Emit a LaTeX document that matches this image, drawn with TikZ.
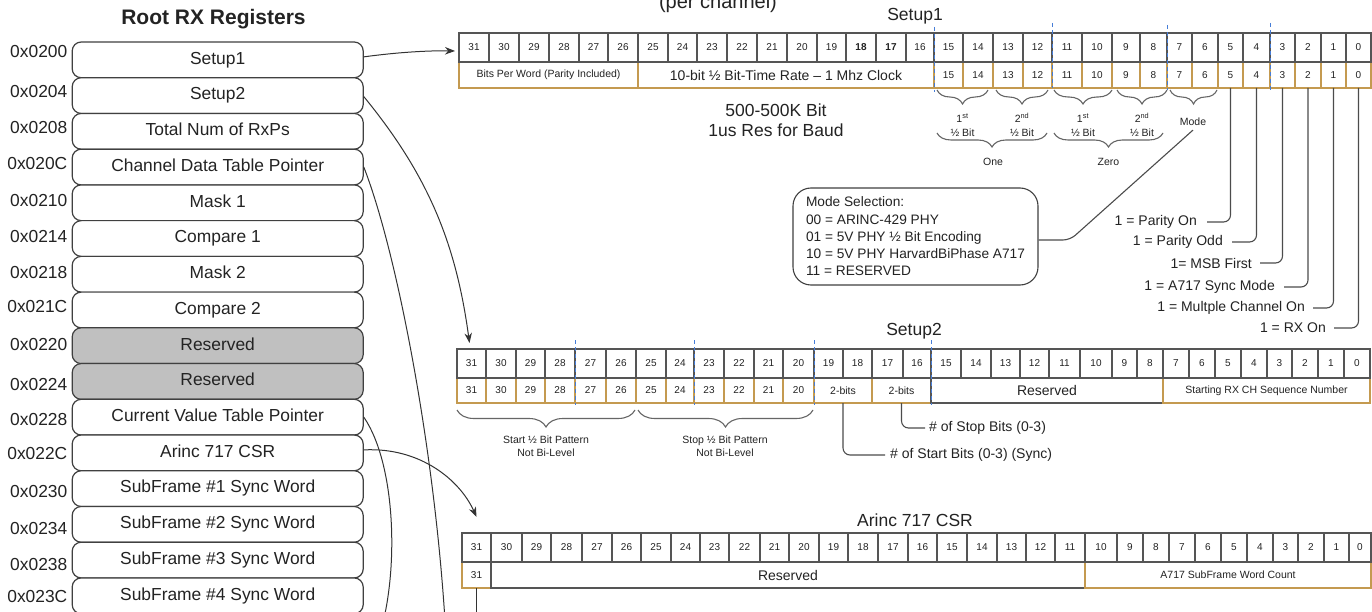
\documentclass[tikz,border=0pt]{standalone}
\usepackage{fontspec}
\setmainfont{Liberation Sans}
\usetikzlibrary{arrows.meta,decorations.pathreplacing,calc}
\definecolor{edgecol}{RGB}{85,85,85}
\definecolor{tancol}{RGB}{196,154,80}
\definecolor{dashcol}{RGB}{70,125,215}
\definecolor{inkcol}{RGB}{35,35,35}
\definecolor{resvcol}{RGB}{192,192,192}
\newcommand\fsz[2]{\fontsize{#1}{#2}\selectfont}
\begin{document}
\begin{tikzpicture}[x=1pt,y=-1pt,
  every node/.style={text=inkcol},
  topcell/.style={draw=edgecol, line width=1.1pt, inner sep=0pt, outer sep=0pt, font={\fsz{10}{12}}, minimum height=29pt},
  botcell/.style={draw=tancol, line width=1.1pt, inner sep=0pt, outer sep=0pt, font={\fsz{10}{12}}},
  regbox/.style={draw=black!75, line width=1.2pt, rounded corners=9pt, minimum width=291pt, minimum height=35.73pt, inner sep=0pt, text height=12.4pt, text depth=3.8pt, font={\fsz{17.4}{20}}},
  addr/.style={anchor=east, inner sep=0pt, font={\fsz{17.4}{20}}},
  conn/.style={draw=black!80, line width=1pt},
  arr/.style={conn, -{Stealth[length=10pt,width=7.5pt]}},
  leader/.style={draw=black!70, line width=1.1pt, rounded corners=7pt},
  bluedash/.style={draw=dashcol, line width=1pt, dash pattern=on 4pt off 3pt},
  bracelow/.style={draw=black!60, line width=1.1pt, decorate, decoration={brace, mirror, amplitude=#1}},
  small/.style={font={\fsz{10.5}{13}}, inner sep=0pt},
  mid/.style={font={\fsz{14}{17}}, inner sep=0pt},
  big/.style={font={\fsz{17.5}{19.5}}, inner sep=0pt}
]
\useasboundingbox (0,0) rectangle (1372,612);
\clip (0,0) rectangle (1372,612);
\fill[white] (0,0) rectangle (1372,612);

% ---------- left: root registers ----------
\node[font={\bfseries\fsz{21}{24}}, anchor=base, inner sep=0pt] (title) at (213.5,25) {Root RX Registers};
\foreach \lbl/\fc [count=\i from 0] in {Setup1/white, Setup2/white, Total Num of RxPs/white, Channel Data Table Pointer/white, Mask 1/white, Compare 1/white, Mask 2/white, Compare 2/white, Reserved/resvcol, Reserved/resvcol, Current Value Table Pointer/white, Arinc 717 CSR/white, SubFrame \#1 Sync Word/white, SubFrame \#2 Sync Word/white, SubFrame \#3 Sync Word/white, SubFrame \#4 Sync Word/white}
  \node[regbox, fill=\fc] (r\i) at (217.7,{42+35.73*(\i+0.5)}) {\lbl};
\foreach \a/\yy [count=\i from 0] in {0x0200/52,0x0204/92,0x0208/128,0x020C/164,0x0210/201,0x0214/237,0x0218/273,0x021C/307,0x0220/345,0x0224/385,0x0228/420,0x022C/454,0x0230/492,0x0234/529,0x0238/565,0x023C/597}
  \node[addr] (ad\i) at (67.5,\yy) {\a};

% ---------- Setup1 ----------
\node[font={\fsz{20}{24}}, anchor=base, inner sep=0pt] (lPer) at (718,9) {(per channel)};
\node[big] (lSetup1) at (915,16) {Setup1};
\node[botcell, minimum width=179pt, minimum height=26pt, font={\fsz{10.5}{12}}] (s1bpw) at (548.5,75) {Bits Per Word (Parity Included)};
\node[botcell, minimum width=296pt, minimum height=26pt, font={\fsz{14}{16}}] (s1rate) at (786,75) {10-bit ½ Bit-Time Rate – 1 Mhz Clock};
\foreach \xa/\xb [count=\i from 0] in {934/963,963/993,993/1023,1023/1052,1052/1082,1082/1112,1112/1140,1140/1167,1167/1192,1192/1218,1218/1243,1243/1270,1270/1295,1295/1321,1321/1346,1346/1371} {
  \pgfmathtruncatemacro\bit{15-\i}
  \node[botcell, minimum width={(\xb-\xa)*1pt}, minimum height=26pt] (s1b\bit) at ({(\xa+\xb)/2},75) {\bit};
}
\foreach \xa/\xb [count=\i from 0] in {459/489,489/519,519/549,549/579,579/608,608/638,638/668,668/697,697/727,727/757,757/787,787/817,817/846,846/876,876/906,906/934,934/963,963/993,993/1023,1023/1052,1052/1082,1082/1112,1112/1140,1140/1167,1167/1192,1192/1218,1218/1243,1243/1270,1270/1295,1295/1321,1321/1346,1346/1371} {
  \pgfmathtruncatemacro\bit{31-\i}
  \node[topcell, minimum width={(\xb-\xa)*1pt}] (s1t\bit) at ({(\xa+\xb)/2},47.5) {\ifnum\bit=18 \bfseries\fi\ifnum\bit=17 \bfseries\fi\bit};
}
\node[big, align=center] (lBaud) at (776,120) {500-500K Bit\\1us Res for Baud};

% braces under Setup1
\draw[bracelow=14pt] (937,90) -- (988,90);
\draw[bracelow=14pt] (996,90) -- (1048,90);
\draw[bracelow=14pt] (1054,90) -- (1112,90);
\draw[bracelow=14pt] (1117,90) -- (1167,90);
\draw[bracelow=14pt] (1170,90) -- (1217,90);
\node[small] (h1) at (962.5,118) {1\textsuperscript{st}};
\node[small] (h2) at (1022,118) {2\textsuperscript{nd}};
\node[small] (h3) at (1083,118) {1\textsuperscript{st}};
\node[small] (h4) at (1142,118) {2\textsuperscript{nd}};
\node[small] (b1) at (962.5,133) {½ Bit};
\node[small] (b2) at (1022,133) {½ Bit};
\node[small] (b3) at (1083,133) {½ Bit};
\node[small] (b4) at (1142,133) {½ Bit};
\node[small] (lMode) at (1193,122) {Mode};
\draw[bracelow=14pt] (937,133) -- (1047,133);
\draw[bracelow=14pt] (1054,133) -- (1163,133);
\node[small] (lOne) at (993,162) {One};
\node[small] (lZero) at (1108.5,162) {Zero};

% mode selection box
\node[draw=black!75, line width=1.1pt, rounded corners=18pt, minimum width=245pt, minimum height=97pt, inner sep=0pt, align=left, font={\fsz{13.7}{17.2}}] (mode) at (915.5,236.5) {Mode Selection:\\00 = ARINC-429 PHY\\01 = 5V PHY ½ Bit Encoding\\10 = 5V PHY HarvardBiPhase A717\\11 = RESERVED};
\draw[leader] ([yshift=-3.5pt]mode.east) -- (1070,240) -- ([yshift=-4pt]lMode.south);

% bit labels
\node[mid, anchor=east] (lp0) at (1197,222) {1 = Parity On};
\node[mid, anchor=east] (lp1) at (1223,242) {1 = Parity Odd};
\node[mid, anchor=east] (lp2) at (1252,263) {1= MSB First};
\node[mid, anchor=east] (lp3) at (1275,287) {1 = A717 Sync Mode};
\node[mid, anchor=east] (lp4) at (1305,308) {1 = Multple Channel On};
\node[mid, anchor=east] (lp5) at (1326,328) {1 = RX On};
\draw[leader] (s1b5.south) |- ([xshift=10pt]lp0.east);
\draw[leader] (s1b4.south) |- ([xshift=9pt]lp1.east);
\draw[leader] (s1b3.south) |- ([xshift=8pt]lp2.east);
\draw[leader] (s1b2.south) |- ([xshift=9pt]lp3.east);
\draw[leader] (s1b1.south) |- ([xshift=8pt]lp4.east);
\draw[leader] (s1b0.south) |- ([xshift=8pt]lp5.east);

% ---------- Setup2 ----------
\node[big] (lSetup2) at (914,331) {Setup2};
\foreach \xa/\xb [count=\i from 0] in {457/486,486/516,516/545,545/575,575/606,606/636,636/666,666/694,694/724,724/754,754/783,783/814} {
  \pgfmathtruncatemacro\bit{31-\i}
  \node[botcell, minimum width={(\xb-\xa)*1pt}, minimum height=25pt] (s2b\bit) at ({(\xa+\xb)/2},390.5) {\bit};
}
\node[botcell, minimum width=58pt, minimum height=25pt, font={\fsz{10.5}{12}}] (s2start) at (843,390.5) {2-bits};
\node[botcell, minimum width=59pt, minimum height=25pt, font={\fsz{10.5}{12}}] (s2stop) at (901.5,390.5) {2-bits};
\node[botcell, draw=edgecol, minimum width=232pt, minimum height=25pt, font={\fsz{14}{16}}] (s2res) at (1047,390.5) {Reserved};
\node[botcell, minimum width=207pt, minimum height=25pt, font={\fsz{10.5}{12}}] (s2seq) at (1266.5,390.5) {Starting RX CH Sequence Number};
\foreach \xa/\xb [count=\i from 0] in {457/486,486/516,516/545,545/575,575/606,606/636,636/666,666/694,694/724,724/754,754/783,783/814,814/843,843/872,872/903,903/931,931/961,961/991,991/1020,1020/1049,1049/1080,1080/1112,1112/1137,1137/1163,1163/1189,1189/1215,1215/1241,1241/1267,1267/1292,1292/1318,1318/1344,1344/1370} {
  \pgfmathtruncatemacro\bit{31-\i}
  \node[topcell, minimum width={(\xb-\xa)*1pt}] (s2t\bit) at ({(\xa+\xb)/2},363.5) {\bit};
}
\draw[bracelow=17pt] (457,410) -- (635,410);
\draw[bracelow=17pt] (638,410) -- (813,410);
\node[small, align=center] (lStartPat) at (546,446.5) {Start ½ Bit Pattern\\Not Bi-Level};
\node[small, align=center] (lStopPat) at (725,446.5) {Stop ½ Bit Pattern\\Not Bi-Level};
\node[mid, anchor=west] (lStart) at (890,455) {\# of Start Bits (0-3) (Sync)};
\node[mid, anchor=west] (lStop) at (929,428) {\# of Stop Bits (0-3)};
\draw[leader] (s2start.south) |- ([xshift=-5pt]lStart.west);
\draw[leader] (s2stop.south) |- ([xshift=-4pt]lStop.west);

% ---------- Arinc 717 CSR ----------
\node[big] (lArinc) at (915,520) {Arinc 717 CSR};
\node[botcell, minimum width=29pt, minimum height=26pt] (a7b31) at (476.5,575) {31};
\node[botcell, draw=edgecol, minimum width=594pt, minimum height=26pt, font={\fsz{14}{16}}] (a7res) at (788,575) {Reserved};
\node[botcell, minimum width=286pt, minimum height=26pt, font={\fsz{10.5}{12}}] (a7cnt) at (1228,575) {A717 SubFrame Word Count};
\foreach \xa/\xb [count=\i from 0] in {462/491,491/522,522/551,551/582,582/612,612/641,641/671,671/700,700/729,729/760,760/789,789/819,819/848,848/878,878/908,908/937,937/967,967/997,997/1026,1026/1055,1055/1085,1085/1117,1117/1143,1143/1169,1169/1195,1195/1221,1221/1247,1247/1273,1273/1298,1298/1324,1324/1349,1349/1371} {
  \pgfmathtruncatemacro\bit{31-\i}
  \node[topcell, minimum width={(\xb-\xa)*1pt}] (a7t\bit) at ({(\xa+\xb)/2},547.5) {\bit};
}
\coordinate (a7end) at (476.5,630);
\draw[conn] (a7b31.south) -- (a7end);

% blue dashed separators
\foreach \xx/\ya/\yb in {934/27/92, 1052/23/88, 1167/25/90, 1270/23/90, 575/340/405, 694/340/405, 814/340/405, 931/340/405}
  \draw[bluedash] (\xx,\ya) -- (\xx,\yb);

% ---------- connectors ----------
\coordinate (cdtEnd) at (447,660);
\coordinate (cvtEnd) at (370,660);
\draw[arr] ([yshift=3pt]r0.east) .. controls (400,52) and (430,50.5) .. ([shift={(-4,3.5)}]s1t31.west);
\draw[arr] ([yshift=-1pt]r1.east) .. controls (428,175) and (456,243) .. ([shift={(-2,-6)}]s2t31.north);
\draw[conn] (r3.east) .. controls (400,260) and (440,480) .. (cdtEnd);
\draw[conn] (r10.east) .. controls (400,470) and (400,600) .. (cvtEnd);
\draw[arr] ([yshift=3pt]r11.east) .. controls (420,447) and (460,480) .. ([yshift=16pt]a7t31.north);
\end{tikzpicture}
\end{document}
